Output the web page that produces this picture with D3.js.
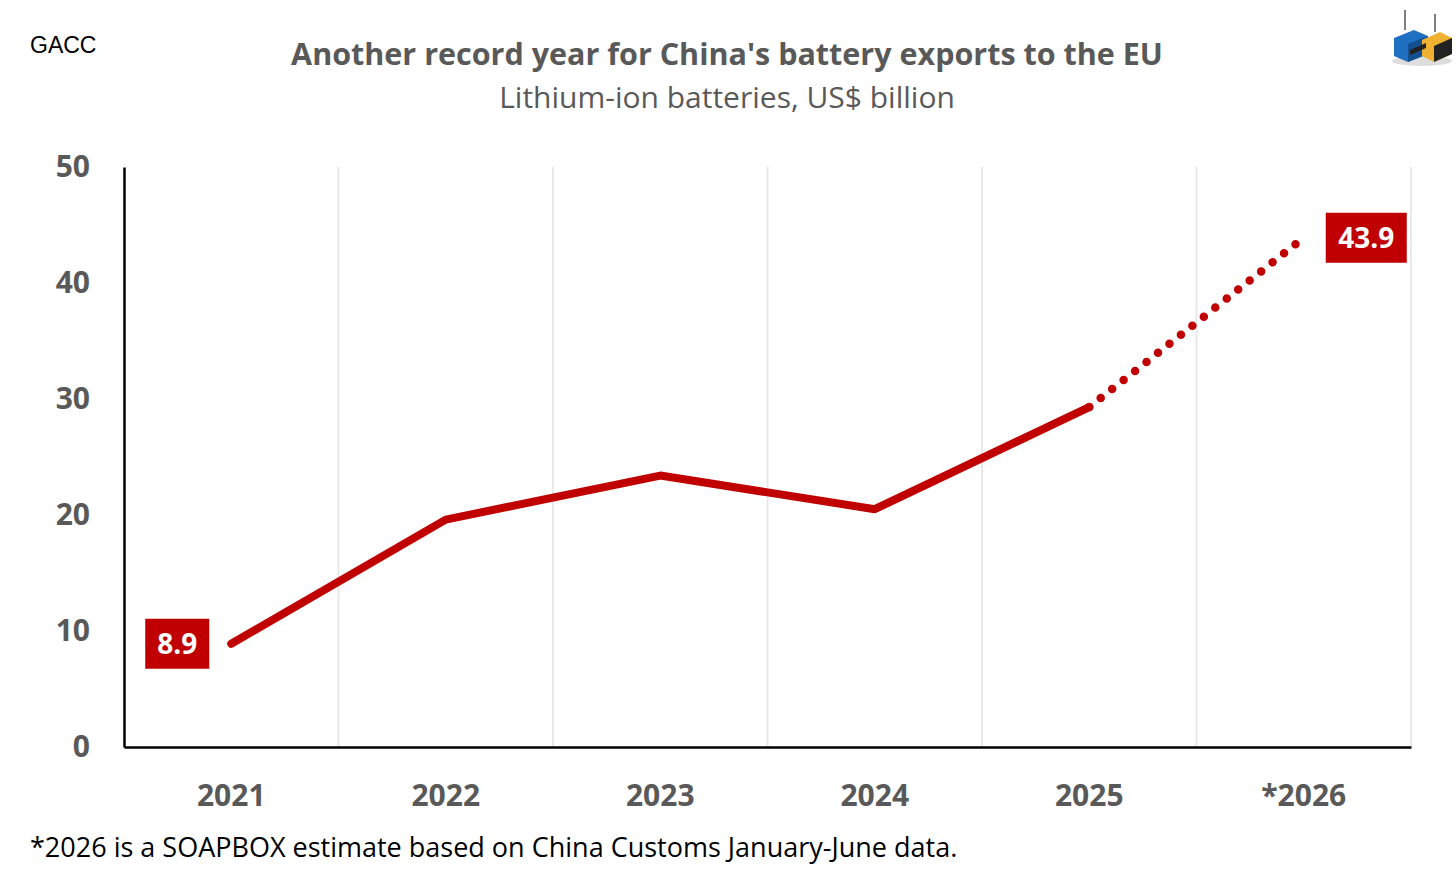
<!DOCTYPE html>
<html>
<head>
<meta charset="utf-8">
<script src="https://cdn.jsdelivr.net/npm/d3@7"></script>
<style>
  body { margin: 0; background: #fff; }
  svg { display: block; }
  text { font-family: "Open Sans", "Noto Sans", sans-serif; }
</style>
</head>
<body>
<svg id="chart" width="1456" height="874"></svg>
<script>
// data
const years = ["2021", "2022", "2023", "2024", "2025", "*2026"];
const exportsBn = [8.9, 19.6, 23.4, 20.5, 29.3, 43.9];
const yTicks = [0, 10, 20, 30, 40, 50];
const labelled = [0, 5]; // indexes with a value box
const estimateFrom = 4;  // dotted from 2025 to 2026

const red = "#c00000";
const grey = "#595959";

const svg = d3.select("#chart");
const margin = { left: 124, right: 45, top: 167, bottom: 127 };
const W = 1456, H = 874;

const x = d3.scaleBand().domain(years).range([margin.left, W - margin.right]);
const y = d3.scaleLinear().domain([0, 50]).range([H - margin.bottom, margin.top]);

// header
svg.append("text").attr("x", 30).attr("y", 53)
  .style("font-family", "'Liberation Sans', Arial, sans-serif")
  .style("font-size", "23px").attr("fill", "#000").text("GACC");

svg.append("text").attr("x", 727).attr("y", 65).attr("text-anchor", "middle")
  .style("font-size", "30.5px").style("font-weight", "bold").attr("fill", grey)
  .text("Another record year for China's battery exports to the EU");
svg.append("text").attr("x", 727).attr("y", 108).attr("text-anchor", "middle")
  .style("font-size", "30px").attr("fill", grey)
  .text("Lithium-ion batteries, US$ billion");

// vertical gridlines at band edges
svg.append("g").selectAll("line")
  .data(years)
  .enter().append("line")
  .attr("x1", d => x(d) + x.bandwidth())
  .attr("x2", d => x(d) + x.bandwidth())
  .attr("y1", y(50)).attr("y2", y(0))
  .attr("stroke", "#e8e8e8").attr("stroke-width", 2);

// y axis
const yAxis = svg.append("g").attr("transform", `translate(${margin.left},0)`)
  .call(d3.axisLeft(y).tickValues(yTicks).tickSize(0).tickPadding(34));
yAxis.select(".domain").attr("stroke", "#000").attr("stroke-width", 2.5);
yAxis.selectAll("text").style("font-size", "30px").style("font-weight", "bold")
  .attr("fill", grey).style("font-family", "'Open Sans', sans-serif");

// x axis
const xAxis = svg.append("g").attr("transform", `translate(0,${y(0)})`)
  .call(d3.axisBottom(x).tickSize(0).tickPadding(38));
xAxis.select(".domain").attr("stroke", "#000").attr("stroke-width", 2.5);
xAxis.selectAll("text").style("font-size", "30px").style("font-weight", "bold")
  .attr("fill", grey).style("font-family", "'Open Sans', sans-serif");

// line
const pts = years.map((d, i) => ({ year: d, v: exportsBn[i], i }));
const line = d3.line().x(d => x(d.year) + x.bandwidth() / 2).y(d => y(d.v));

svg.append("path").datum(pts.slice(0, estimateFrom + 1))
  .attr("d", line).attr("fill", "none").attr("stroke", red)
  .attr("stroke-width", 8).attr("stroke-linecap", "round").attr("stroke-linejoin", "round");

svg.append("path").datum(pts.slice(estimateFrom))
  .attr("d", line).attr("fill", "none").attr("stroke", red)
  .attr("stroke-width", 8.5).attr("stroke-linecap", "round")
  .attr("stroke-dasharray", "0 14.6");

// value boxes
labelled.forEach(i => {
  const p = pts[i];
  const cx = x(p.year) + x.bandwidth() / 2;
  const cy = y(p.v);
  const w = p.v >= 10 ? 81 : 64;
  const bx = i === 0 ? cx - 22 - w : cx + 22;
  const g = svg.append("g");
  g.append("rect").attr("x", bx).attr("y", cy - 25).attr("width", w).attr("height", 50).attr("fill", red);
  g.append("text").attr("x", bx + w / 2).attr("y", cy + 10).attr("text-anchor", "middle")
    .style("font-size", "28px").style("font-weight", "bold").attr("fill", "#fff")
    .text(d3.format(".1f")(p.v));
});

// footnote
svg.append("text").attr("x", 30).attr("y", 857)
  .style("font-size", "27px").attr("fill", "#000")
  .text("*2026 is a SOAPBOX estimate based on China Customs January-June data.");

// little container logo
const logo = svg.append("g").attr("transform", "translate(1392,8)");
logo.append("ellipse").attr("cx", 30).attr("cy", 53).attr("rx", 30).attr("ry", 5).attr("fill", "#ddd");
logo.append("line").attr("x1", 13).attr("x2", 13).attr("y1", 2).attr("y2", 22).attr("stroke", "#555").attr("stroke-width", 1.5);
logo.append("line").attr("x1", 43).attr("x2", 43).attr("y1", 6).attr("y2", 24).attr("stroke", "#555").attr("stroke-width", 1.5);
logo.append("path").attr("d", "M2,30 L22,22 L36,28 L36,46 L16,54 L2,48 Z").attr("fill", "#1f6fc2");
logo.append("path").attr("d", "M16,36 L36,28 L36,46 L16,54 Z").attr("fill", "#14508f");
logo.append("path").attr("d", "M30,32 L48,24 L60,30 L60,46 L42,54 L30,48 Z").attr("fill", "#f0b132");
logo.append("path").attr("d", "M42,38 L60,30 L60,46 L42,54 Z").attr("fill", "#222");
logo.append("path").attr("d", "M18,42 L34,35 L34,40 L18,47 Z").attr("fill", "#222");
</script>
</body>
</html>
